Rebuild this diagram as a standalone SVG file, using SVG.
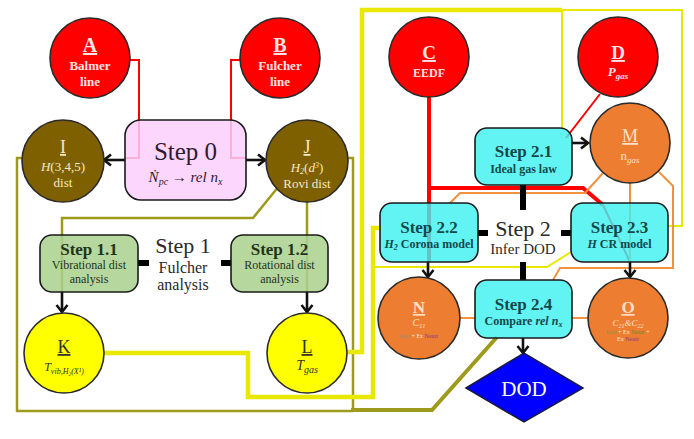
<svg xmlns="http://www.w3.org/2000/svg" width="694" height="439" viewBox="0 0 694 439">
<defs>
<marker id="arr" markerUnits="userSpaceOnUse" markerWidth="12" markerHeight="14" refX="9" refY="7" orient="auto">
<path d="M2,1.5 L9,7 L2,12.5" fill="none" stroke="#111" stroke-width="2.6"/>
</marker>
<style>
text{font-family:"Liberation Serif","DejaVu Serif",serif;text-anchor:middle}
.c{stroke:#2a2a2a;stroke-width:1.6}
.red{fill:#ff0000}
.brn{fill:#7f6000}
.yel{fill:#ffff00}
.org{fill:#ed7d31}
.box{stroke:#1a1a1a;stroke-width:1.6}
.cy{fill:#3ff0f0;fill-opacity:0.82}
.gr{fill:#a9d18e;fill-opacity:0.85}
.pk{fill:#fccffc;fill-opacity:0.85}
.ln{fill:none;stroke-linejoin:miter}
.rl{stroke:#ff0000;stroke-width:2}
.rlt{stroke:#ff0000;stroke-width:4}
.ol{stroke:#9e9a1c;stroke-width:2.5}
.olt{stroke:#9e9a1c;stroke-width:4}
.yl{stroke:#e8e800;stroke-width:2}
.ylt{stroke:#e8e800;stroke-width:4.5}
.or{stroke:#f2913f;stroke-width:2}
.ar{fill:none;stroke:#111;stroke-width:2.6;marker-end:url(#arr)}
.bar{stroke:#000;stroke-width:6}
.tl{fill:#ffe4e4;font-weight:bold}
.tb{fill:#f3e9c6}
.ty{fill:#333}
.to{fill:#ffe0c8}
.ts{fill:#13494b;font-weight:bold;font-size:17px}
.tss{fill:#13494b;font-size:12px;font-weight:bold}
.tg{fill:#23331a;font-weight:bold;font-size:17px}
.tgs{fill:#23331a;font-size:12px}
.big{fill:#2a2a2a}
</style>
</defs>

<g id="connectors">
<polyline class="ln ol" points="279,186 253,218 62,218 62,292"/>
<polyline class="ln ol" points="307,201 307,292"/>
<polyline class="ln ol" points="22,158 17,158 17,411 353,411"/>
<polyline class="ln ol" points="348,158 353,158 353,411"/>
<polyline class="ln olt" points="351,410 432,410 497,337"/>
<polyline class="ln ylt" points="104,353 248,353 248,397 373,397 373,228 380,228"/>
<polyline class="ln yl" points="373,267 547,267 571,252"/>
<polyline class="ln ylt" points="347,352 362,352 362,10 562,10"/>
<polyline class="ln yl" points="562,10 682,10 682,226 668,226"/>
<polyline class="ln yl" points="562,10 562,128"/>
<polyline class="ln rl" points="130,60 139,60 139,158 125,158"/>
<polyline class="ln rl" points="240,60 231,60 231,158 246,158"/>
<polyline class="ln rl" points="600,94 566,138"/>
<polyline class="ln rlt" points="429,97 429,262"/>
<polyline class="ln rlt" points="429,188 583,188 603,205"/>
<polyline class="ln rl" points="603,205 630,262"/>
<polyline class="ln or" points="603,173 585,193 460,193 450,203"/>
<polyline class="ln or" points="630,183 630,262"/>
<polyline class="ln or" points="659,172 673,186 673,268 560,268 553,280"/>
<polyline class="ln or" points="460,318 475,318"/>
<polyline class="ln or" points="588,318 572,318"/>
<line class="ar" x1="125" y1="160" x2="104" y2="160"/>
<line class="ar" x1="246" y1="160" x2="265" y2="160"/>
<line class="ar" x1="62" y1="292" x2="62" y2="312"/>
<line class="ar" x1="307" y1="292" x2="307" y2="312"/>
<line class="ar" x1="572" y1="143" x2="588" y2="143"/>
<line class="ar" x1="428" y1="262" x2="428" y2="277"/>
<line class="ar" x1="630" y1="262" x2="630" y2="277"/>
<line class="ar" x1="523" y1="338" x2="523" y2="353"/>
<line class="bar" x1="138" y1="263" x2="149" y2="263"/>
<line class="bar" x1="221" y1="263" x2="231" y2="263"/>
<line class="bar" x1="478" y1="233" x2="488" y2="233"/>
<line class="bar" x1="561" y1="233" x2="571" y2="233"/>
<line class="bar" x1="523" y1="185" x2="523" y2="210"/>
<line class="bar" x1="523" y1="262" x2="523" y2="280"/>
</g>

<g id="A">
<circle class="c red" cx="90" cy="58" r="40"/>
<text class="tl" x="90" y="52" font-size="20" text-decoration="underline">A</text>
<text class="tl" x="90" y="70" font-size="13">Balmer</text>
<text class="tl" x="90" y="86" font-size="13">line</text>
</g>
<g id="B">
<circle class="c red" cx="280" cy="58" r="40"/>
<text class="tl" x="280" y="52" font-size="20" text-decoration="underline">B</text>
<text class="tl" x="280" y="70" font-size="13">Fulcher</text>
<text class="tl" x="280" y="86" font-size="13">line</text>
</g>
<g id="C">
<circle class="c red" cx="429" cy="57" r="40"/>
<text class="tl" x="429" y="59" font-size="19" text-decoration="underline">C</text>
<text class="tl" x="429" y="77" font-size="12">EEDF</text>
</g>
<g id="D">
<circle class="c red" cx="618" cy="57" r="40"/>
<text class="tl" x="618" y="59" font-size="19" text-decoration="underline">D</text>
<text class="tl" x="618" y="76" font-size="13" font-style="italic" font-weight="normal">P<tspan font-size="9" dy="3">gas</tspan></text>
</g>
<g id="I">
<circle class="c brn" cx="63" cy="161" r="41"/>
<text class="tb" x="63" y="153" font-size="18" text-decoration="underline">I</text>
<text class="tb" x="63" y="171" font-size="13"><tspan font-style="italic">H</tspan>(3,4,5)</text>
<text class="tb" x="63" y="187" font-size="13">dist</text>
</g>
<g id="J">
<circle class="c brn" cx="307" cy="161" r="41"/>
<text class="tb" x="307" y="153" font-size="18" text-decoration="underline">J</text>
<text class="tb" x="307" y="172" font-size="13" font-style="italic">H<tspan font-size="8" dy="2">2</tspan><tspan dy="-2" font-style="normal">(</tspan>d<tspan font-size="8" dy="-4">3</tspan><tspan dy="4" font-style="normal">)</tspan></text>
<text class="tb" x="307" y="188" font-size="13">Rovi dist</text>
</g>
<g id="K">
<circle class="c yel" cx="64" cy="353" r="40"/>
<text class="ty" x="64" y="353" font-size="18" text-decoration="underline">K</text>
<text class="ty" x="64" y="371" font-size="12" font-style="italic">T<tspan font-size="8" dy="3">vib,H₂(X¹)</tspan></text>
</g>
<g id="L">
<circle class="c yel" cx="307" cy="353" r="40"/>
<text class="ty" x="307" y="353" font-size="18" text-decoration="underline">L</text>
<text class="ty" x="307" y="370" font-size="14" font-style="italic">T<tspan font-size="10" dy="3">gas</tspan></text>
</g>
<g id="M">
<circle class="c org" cx="630" cy="143" r="40"/>
<text class="to" x="630" y="142" font-size="18" text-decoration="underline">M</text>
<text class="to" x="630" y="160" font-size="13">n<tspan font-size="9" dy="3" font-style="italic">gas</tspan></text>
</g>
<g id="N">
<circle class="c org" cx="419" cy="318" r="41"/>
<text class="to" x="419" y="313" font-size="17" text-decoration="underline" font-weight="bold">N</text>
<text class="to" x="419" y="326" font-size="10" font-style="italic">C<tspan font-size="7" dy="2">11</tspan></text>
<text x="419" y="338" font-size="6"><tspan fill="#a08a7a">Ions</tspan><tspan fill="#ffe8d0"> + Ex </tspan><tspan fill="#8a3a8a">Neutr</tspan></text>
</g>
<g id="O">
<circle class="c org" cx="628" cy="318" r="40"/>
<text class="to" x="628" y="313" font-size="17" text-decoration="underline" font-weight="bold">O</text>
<text class="to" x="628" y="326" font-size="9" font-style="italic">C<tspan font-size="6" dy="2">21</tspan><tspan dy="-2">&amp;C</tspan><tspan font-size="6" dy="2">22</tspan></text>
<text x="628" y="334" font-size="6"><tspan fill="#8a9a3a">Ions</tspan><tspan fill="#ffe8d0"> + Ex </tspan><tspan fill="#6a8a2a">Neutr</tspan><tspan fill="#ffe8d0"> +</tspan></text>
<text x="628" y="341" font-size="6"><tspan fill="#ffe8d0">Ex </tspan><tspan fill="#8a3a8a">Neutr</tspan></text>
</g>

<g id="step0">
<rect class="box pk" x="125" y="120" width="121" height="80" rx="16"/>
<text x="185.5" y="160" font-size="25" fill="#2e1a30">Step 0</text>
<text x="185.5" y="182" font-size="15" fill="#2e1a30" font-style="italic">Ṅ<tspan font-size="10" dy="3">pc</tspan><tspan dy="-3" font-style="normal"> → </tspan>rel n<tspan font-size="10" dy="3">x</tspan></text>
</g>
<g id="step1">
<text class="big" x="183" y="253" font-size="22">Step 1</text>
<text class="big" x="183" y="273" font-size="16">Fulcher</text>
<text class="big" x="183" y="290" font-size="16">analysis</text>
</g>
<g id="step1_1">
<rect class="box gr" x="40" y="235" width="98" height="57" rx="12"/>
<text class="tg" x="89" y="255">Step 1.1</text>
<text class="tgs" x="89" y="269">Vibrational dist</text>
<text class="tgs" x="89" y="283">analysis</text>
</g>
<g id="step1_2">
<rect class="box gr" x="231" y="235" width="97" height="57" rx="12"/>
<text class="tg" x="279.5" y="255">Step 1.2</text>
<text class="tgs" x="279.5" y="269">Rotational dist</text>
<text class="tgs" x="279.5" y="283">analysis</text>
</g>
<g id="step2">
<text class="big" x="523" y="236" font-size="22">Step 2</text>
<text class="big" x="523" y="254" font-size="15">Infer DOD</text>
</g>
<g id="step2_1">
<rect class="box cy" x="475" y="128" width="97" height="57" rx="12"/>
<text class="ts" x="523.5" y="157">Step 2.1</text>
<text class="tss" x="523.5" y="173">Ideal gas law</text>
</g>
<g id="step2_2">
<rect class="box cy" x="380" y="203" width="98" height="59" rx="12"/>
<text class="ts" x="429" y="233">Step 2.2</text>
<text class="tss" x="429" y="248"><tspan font-style="italic">H<tspan font-size="8" dy="2">2</tspan></tspan><tspan dy="-2"> Corona model</tspan></text>
</g>
<g id="step2_3">
<rect class="box cy" x="571" y="203" width="97" height="59" rx="12"/>
<text class="ts" x="619.5" y="233">Step 2.3</text>
<text class="tss" x="619.5" y="248"><tspan font-style="italic">H</tspan> CR model</text>
</g>
<g id="step2_4">
<rect class="box cy" x="475" y="280" width="97" height="58" rx="12"/>
<text class="ts" x="523.5" y="310">Step 2.4</text>
<text class="tss" x="523.5" y="325">Compare <tspan font-style="italic">rel n<tspan font-size="8" dy="2">x</tspan></tspan></text>
</g>
<g id="DOD">
<polygon points="466,388 524,353 583,388 524,422" fill="#0000ff" stroke="#1a1a40" stroke-width="1.5"/>
<text x="524" y="396" font-size="21" fill="#ffffff">DOD</text>
</g>
</svg>
